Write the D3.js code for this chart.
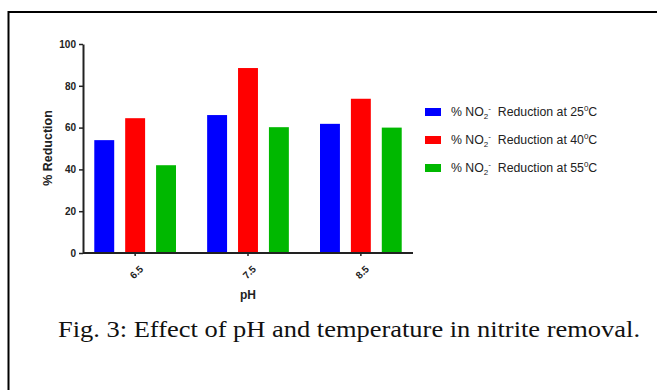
<!DOCTYPE html>
<html>
<head>
<meta charset="utf-8">
<script src="https://cdn.jsdelivr.net/npm/d3@7"></script>
<style>
  body { margin: 0; background: #fff; }
</style>
</head>
<body>
<div id="chartArea"></div>
<script>
var categories = ['6.5', '7.5', '8.5'];
var seriesNames = ['25', '40', '55'];
var at25 = [54, 66, 61.8];
var at40 = [64.5, 88.5, 73.8];
var at55 = [42, 60.2, 60];
var yTicks = [0, 20, 40, 60, 80, 100];
var colors = ['#0000ff', '#ff0000', '#00b800'];

function chartBars() {
    var width = 657, height = 390;
    var margin = {top: 44, left: 83, right: 244, bottom: 137};
    var values = [at25, at40, at55];

    var svg = d3.select('#chartArea').append('svg')
        .attr('width', width)
        .attr('height', height);

    // frame around the figure (right and bottom edges are off the picture)
    svg.append('path')
        .attr('d', 'M8.5,' + height + 'V12H' + width)
        .attr('fill', 'none')
        .attr('stroke', '#000')
        .attr('stroke-width', 2);

    var x0 = d3.scaleBand().domain(categories)
        .range([margin.left, width - margin.right])
        .paddingInner(0.276).paddingOuter(0.1);
    var x1 = d3.scaleBand().domain(d3.range(3))
        .range([0, x0.bandwidth()])
        .paddingInner(0.355);
    var y = d3.scaleLinear().domain([0, 100])
        .range([height - margin.bottom, margin.top]);

    var groups = svg.append('g').selectAll('g').data(categories).enter().append('g')
        .attr('transform', function(d) { return 'translate(' + x0(d) + ',0)'; });
    groups.selectAll('rect')
        .data(function(d, i) { return values.map(function(v, k) { return {k: k, v: v[i]}; }); })
        .enter().append('rect')
        .attr('x', function(d) { return x1(d.k); })
        .attr('width', x1.bandwidth())
        .attr('y', function(d) { return y(d.v); })
        .attr('height', function(d) { return y(0) - y(d.v); })
        .attr('fill', function(d) { return colors[d.k]; });

    var yAxis = svg.append('g')
        .attr('transform', 'translate(' + margin.left + ',0)')
        .call(d3.axisLeft(y).tickValues(yTicks).tickSize(4).tickSizeOuter(0).tickPadding(3));
    var xAxis = svg.append('g')
        .attr('transform', 'translate(0,' + y(0) + ')')
        .call(d3.axisBottom(x0).tickSize(3).tickSizeOuter(0));
    xAxis.select('.domain').attr('d', 'M' + margin.left + ',0H' + (width - margin.right));

    [yAxis, xAxis].forEach(function(a) {
        a.select('.domain').attr('stroke', '#222').attr('stroke-width', 2);
        a.selectAll('.tick line').attr('stroke', '#222').attr('stroke-width', 1.5);
        a.selectAll('text')
            .attr('font-family', 'Liberation Sans, Arial, sans-serif')
            .attr('font-size', 10)
            .attr('font-weight', 'bold')
            .attr('fill', '#222');
    });
    xAxis.selectAll('.tick text')
        .attr('text-anchor', 'end')
        .attr('dy', '0.35em')
        .attr('transform', 'translate(2,10) rotate(-45)');

    svg.append('text')
        .attr('transform', 'translate(52,148) rotate(-90)')
        .attr('text-anchor', 'middle')
        .attr('font-family', 'Liberation Sans, Arial, sans-serif')
        .attr('font-size', 12.5).attr('font-weight', 'bold').attr('fill', '#222')
        .text('% Reduction');
    svg.append('text')
        .attr('x', 248).attr('y', 299)
        .attr('text-anchor', 'middle')
        .attr('font-family', 'Liberation Sans, Arial, sans-serif')
        .attr('font-size', 12).attr('font-weight', 'bold').attr('fill', '#222')
        .text('pH');

    // legend
    var legend = svg.append('g').selectAll('g').data(seriesNames).enter().append('g')
        .attr('transform', function(d, i) { return 'translate(425,' + (112 + i * 28) + ')'; });
    legend.append('rect')
        .attr('x', 0).attr('y', -4).attr('width', 16).attr('height', 8)
        .attr('fill', function(d, i) { return colors[i]; });
    var lt = legend.append('text')
        .attr('x', 26).attr('y', 4)
        .attr('font-family', 'Liberation Sans, Arial, sans-serif')
        .attr('font-size', 12.3).attr('fill', '#222');
    lt.append('tspan').text('% NO');
    lt.append('tspan').attr('font-size', 8).attr('dy', 3).text('2');
    lt.append('tspan').attr('font-size', 8).attr('dy', -8).text('-');
    lt.append('tspan').attr('dy', 5).text('\u00a0 Reduction at ' );
    lt.append('tspan').text(function(d) { return d; });
    lt.append('tspan').attr('font-size', 8).attr('dy', -5).text('0');
    lt.append('tspan').attr('dy', 5).text('C');

    svg.append('text')
        .attr('x', 58).attr('y', 337)
        .attr('font-family', 'Liberation Serif, Times New Roman, serif')
        .attr('font-size', 23).attr('fill', '#111')
        .attr('textLength', 582).attr('lengthAdjust', 'spacingAndGlyphs')
        .text('Fig. 3: Effect of pH and temperature in nitrite removal.');
}
chartBars();
</script>
</body>
</html>
